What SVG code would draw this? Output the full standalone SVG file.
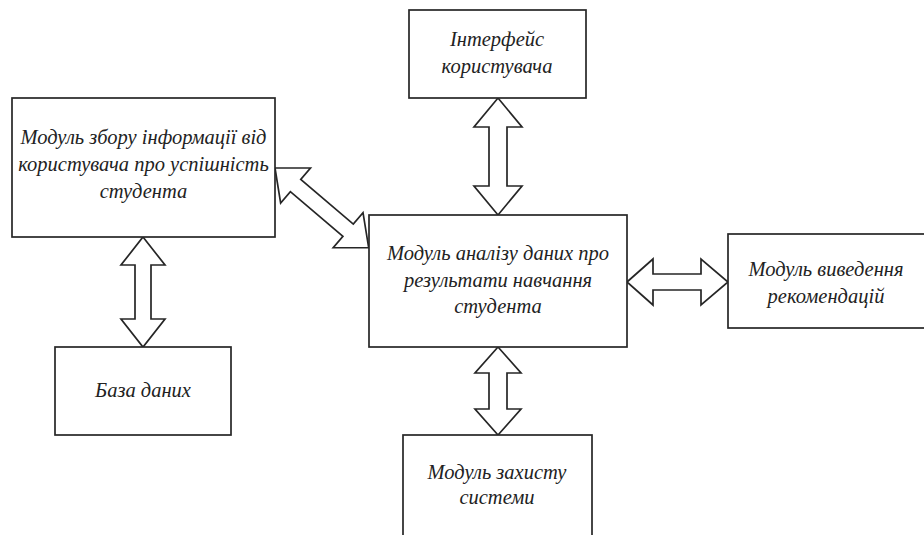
<svg xmlns="http://www.w3.org/2000/svg" width="924" height="535" viewBox="0 0 924 535">
<style>
.box{fill:#fff;stroke:#262626;stroke-width:1.7}
.arr{fill:#fff;stroke:#262626;stroke-width:1.7;stroke-linejoin:miter}
text{font-family:"Liberation Serif","Times New Roman",serif;font-style:italic;font-size:20.5px;fill:#222;text-anchor:middle}
</style>
<rect width="924" height="535" fill="#fff"/>
<g id="connectors">
<polygon class="arr" points="498,98 522,127 507,127 507,186 522,186 498,215 474,186 489,186 489,127 474,127"/>
<polygon class="arr" points="143,237 165,265 151,265 151,319 165,319 143,347 121,319 135,319 135,265 121,265"/>
<polygon class="arr" points="498,347 521,373 507,373 507,409 521,409 498,435 475,409 489,409 489,373 475,373"/>
<polygon class="arr" points="627,282 653,259 653,274 701,274 701,259 728,282 701,305 701,290 653,290 653,305"/>
<polygon class="arr" transform="translate(275,168) rotate(40.4)" points="0,0 27,-23 27,-8 96,-8 96,-23 123,0 96,23 96,8 27,8 27,23"/>
</g>
<g id="n1"><rect class="box" x="12" y="98" width="263" height="139"/>
<text x="143.5" y="144">Модуль збору інформації від</text>
<text x="143.5" y="171">користувача про успішність</text>
<text x="143.5" y="198">студента</text></g>
<g id="n2"><rect class="box" x="409" y="10" width="177" height="88"/>
<text x="497" y="46">Інтерфейс</text>
<text x="497" y="73">користувача</text></g>
<g id="n3"><rect class="box" x="369" y="215" width="258" height="132"/>
<text x="498" y="260">Модуль аналізу даних про</text>
<text x="498" y="287">результати навчання</text>
<text x="498" y="313">студента</text></g>
<g id="n4"><rect class="box" x="728" y="234" width="200" height="94"/>
<text x="826" y="276">Модуль виведення</text>
<text x="826" y="303">рекомендацій</text></g>
<g id="n5"><rect class="box" x="55" y="347" width="176" height="88"/>
<text x="143" y="397">База даних</text></g>
<g id="n6"><rect class="box" x="403" y="435" width="189" height="110"/>
<text x="497" y="479">Модуль захисту</text>
<text x="497" y="504">системи</text></g>
</svg>
